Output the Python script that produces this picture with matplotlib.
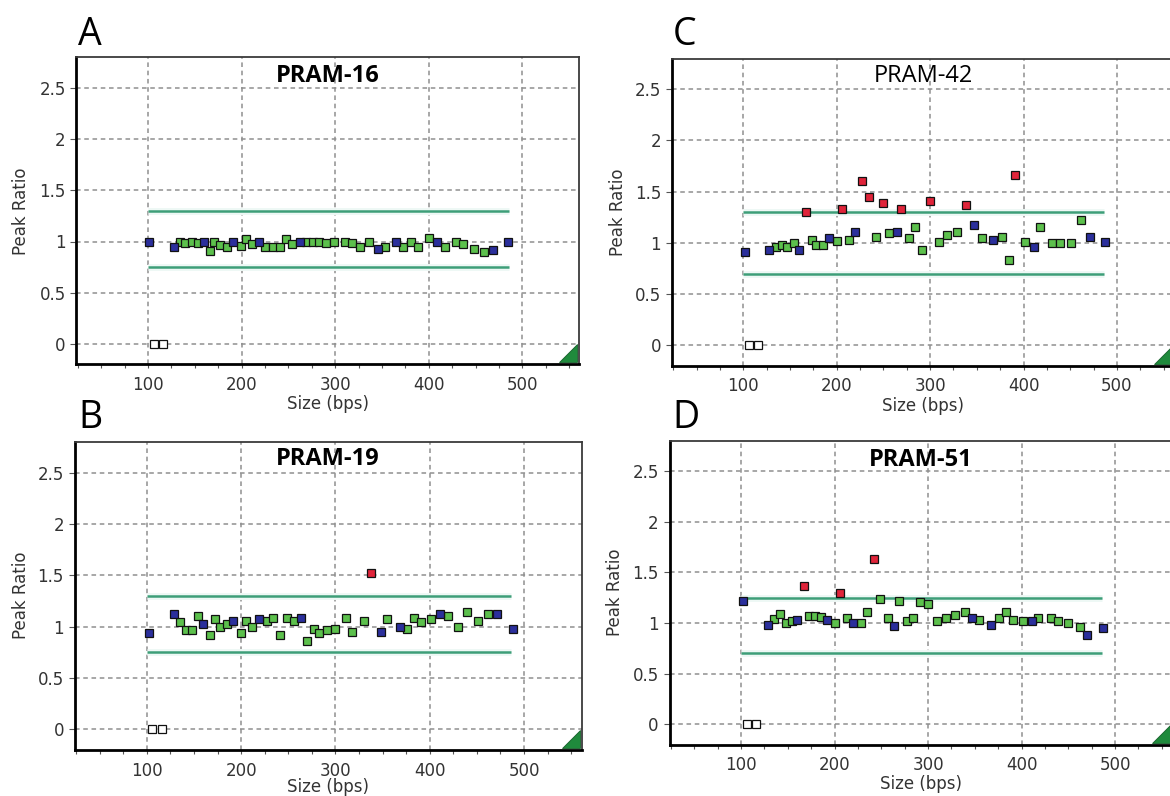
import matplotlib
matplotlib.use("Agg")
import matplotlib.pyplot as plt
from matplotlib.patches import Polygon
from matplotlib.ticker import FixedLocator

# ---------------- data ----------------
titles = ["PRAM-16", "PRAM-19", "PRAM-42", "PRAM-51"]
title_bold = [True, True, False, True]
letters = ["A", "B", "C", "D"]

# panel A (PRAM-16)
xA = [101, 128, 134, 140, 147, 153, 160, 166, 171, 177, 184, 191, 199, 205, 211, 219, 225, 234,
      241, 248, 254, 262, 269, 276, 283, 290, 299, 310, 318, 327, 336, 346, 353, 365, 373, 381,
      389, 400, 409, 417, 429, 437, 448, 459, 469, 485]
yA = [1.00, 0.95, 1.00, 0.99, 1.00, 0.99, 1.00, 0.91, 1.00, 0.97, 0.95, 1.00, 0.96, 1.02, 0.98,
      1.00, 0.95, 0.95, 0.95, 1.02, 0.98, 1.00, 1.00, 1.00, 1.00, 0.99, 1.00, 1.00, 0.99, 0.95,
      1.00, 0.93, 0.95, 1.00, 0.95, 1.00, 0.95, 1.03, 1.00, 0.95, 1.00, 0.98, 0.93, 0.90, 0.92, 1.00]
cA = ['b', 'b', 'g', 'g', 'g', 'g', 'b', 'g', 'g', 'g', 'g', 'b', 'g', 'g', 'g', 'b', 'g', 'g',
      'g', 'g', 'g', 'b', 'g', 'g', 'g', 'g', 'g', 'g', 'g', 'g', 'g', 'b', 'g', 'b', 'g', 'g',
      'g', 'g', 'b', 'g', 'g', 'g', 'g', 'g', 'b', 'b']

# panel B (PRAM-19)
xB = [102, 129, 135, 142, 148, 154, 160, 167, 172, 178, 185, 191, 200, 205, 212, 219, 227, 234,
      241, 249, 256, 263, 270, 277, 283, 291, 300, 311, 318, 330, 338, 348, 355, 368, 376, 383,
      391, 401, 411, 419, 430, 440, 451, 462, 471, 488]
yB = [0.94, 1.12, 1.04, 0.97, 0.97, 1.10, 1.02, 0.92, 1.07, 1.00, 1.02, 1.05, 0.94, 1.05, 1.00,
      1.07, 1.05, 1.08, 0.92, 1.08, 1.05, 1.08, 0.86, 0.98, 0.94, 0.97, 0.98, 1.08, 0.95, 1.05,
      1.52, 0.95, 1.07, 1.00, 0.98, 1.08, 1.04, 1.07, 1.12, 1.10, 1.00, 1.14, 1.05, 1.12, 1.12, 0.98]
cB = ['b', 'b', 'g', 'g', 'g', 'g', 'b', 'g', 'g', 'g', 'g', 'b', 'g', 'g', 'g', 'b', 'g', 'g',
      'g', 'g', 'g', 'b', 'g', 'g', 'g', 'g', 'g', 'g', 'g', 'g', 'r', 'b', 'g', 'b', 'g', 'g',
      'g', 'g', 'b', 'g', 'g', 'g', 'g', 'g', 'b', 'b']

# panel C (PRAM-42)
xC = [102, 128, 135, 141, 147, 154, 160, 167, 173, 178, 185, 192, 200, 206, 213, 220, 227, 235,
      242, 249, 256, 264, 269, 277, 284, 291, 300, 310, 318, 329, 338, 347, 355, 367, 377, 384,
      391, 402, 411, 418, 430, 439, 451, 462, 471, 487]
yC = [0.91, 0.93, 0.96, 0.98, 0.96, 1.00, 0.93, 1.30, 1.03, 0.98, 0.98, 1.05, 1.02, 1.33, 1.03,
      1.11, 1.60, 1.45, 1.06, 1.39, 1.10, 1.11, 1.33, 1.05, 1.15, 0.93, 1.41, 1.01, 1.08, 1.11,
      1.37, 1.17, 1.05, 1.03, 1.06, 0.83, 1.66, 1.01, 0.96, 1.15, 1.00, 1.00, 1.00, 1.22, 1.06, 1.01]
cC = ['b', 'b', 'g', 'g', 'g', 'g', 'b', 'r', 'g', 'g', 'g', 'b', 'g', 'r', 'g', 'b', 'r', 'r',
      'g', 'r', 'g', 'b', 'r', 'g', 'g', 'g', 'r', 'g', 'g', 'g', 'r', 'b', 'g', 'b', 'g', 'g',
      'r', 'g', 'b', 'g', 'g', 'g', 'g', 'g', 'b', 'b']

# panel D (PRAM-51)
xD = [102, 129, 135, 142, 148, 154, 160, 167, 173, 179, 185, 192, 200, 206, 213, 220, 228, 235,
      242, 249, 257, 264, 269, 277, 284, 291, 300, 310, 319, 329, 339, 347, 355, 367, 376, 383,
      391, 402, 411, 418, 431, 439, 450, 462, 470, 487]
yD = [1.22, 0.98, 1.04, 1.09, 1.00, 1.02, 1.03, 1.37, 1.07, 1.07, 1.06, 1.03, 1.00, 1.30, 1.05,
      1.00, 1.00, 1.11, 1.63, 1.24, 1.05, 0.97, 1.22, 1.02, 1.05, 1.21, 1.19, 1.02, 1.05, 1.08,
      1.11, 1.05, 1.03, 0.98, 1.05, 1.11, 1.03, 1.02, 1.02, 1.05, 1.05, 1.02, 1.00, 0.96, 0.88, 0.95]
cD = ['b', 'b', 'g', 'g', 'g', 'g', 'b', 'r', 'g', 'g', 'g', 'b', 'g', 'r', 'g', 'b', 'g', 'g',
      'r', 'g', 'g', 'b', 'g', 'g', 'g', 'g', 'g', 'g', 'g', 'g', 'g', 'b', 'g', 'b', 'g', 'g',
      'g', 'g', 'b', 'g', 'g', 'g', 'g', 'g', 'b', 'b']

# open squares at zero
x_zero = [106, 116]
y_zero = [0, 0]

# threshold lines (lower, upper) per panel
thr_lo = [0.75, 0.75, 0.70, 0.70]
thr_hi = [1.30, 1.30, 1.30, 1.25]
thr_x = [100, 486]

xticks = [100, 200, 300, 400, 500]
yticks = [0, 0.5, 1, 1.5, 2, 2.5]
yticklabels = ["0", "0.5", "1", "1.5", "2", "2.5"]

panel_x = [xA, xB, xC, xD]
panel_y = [yA, yB, yC, yD]
panel_c = [cA, cB, cC, cD]

colors = {'g': '#5cc04c', 'b': '#2b2f9c', 'r': '#e0243a'}

# ---------------- layout ----------------
W, H = 1170, 796
fig = plt.figure(figsize=(W / 100, H / 100), dpi=100)
fig.patch.set_facecolor("white")

# axes boxes in pixels: left, top, width, height
boxes = [(76.4, 57.3, 503, 307),
         (74.6, 441.7, 507, 308),
         (671.9, 58.6, 502, 307),
         (669.5, 440.6, 502.6, 304)]
ylabel_gap = [55, 54, 54, 54]
xlabel_gap = [40, 37, 40, 39]
letter_pos = [(78, 45), (78, 428), (673, 45), (672, 428)]
title_off = [25, 23, 23, 25]

XMIN, XMAX = 23.5, 561
YMIN, YMAX = -0.2, 2.8

for i in range(4):
    l, t, w, h = boxes[i]
    ax = fig.add_axes([l / W, 1 - (t + h) / H, w / W, h / H])
    ax.set_xlim(XMIN, XMAX)
    ax.set_ylim(YMIN, YMAX)
    ax.set_facecolor("white")

    ax.xaxis.set_major_locator(FixedLocator(xticks))
    ax.xaxis.set_minor_locator(FixedLocator([v for v in range(25, 561, 25) if v % 100 != 0]))
    ax.set_yticks(yticks)
    ax.set_yticklabels(yticklabels)

    ax.grid(True, which='major', color='#8f8f8f', lw=1.1, linestyle=(0, (3, 2.4)), zorder=1)
    ax.set_axisbelow(True)

    ax.tick_params(axis='x', which='both', direction='out', length=3, width=0.8, color='#555555',
                   pad=5.5, labelsize=12, labelcolor='#333333')
    ax.tick_params(axis='y', which='major', direction='out', length=4.3, width=0.8, color='#555555',
                   pad=3.4, labelsize=12, labelcolor='#333333')

    for s in ['left', 'bottom']:
        ax.spines[s].set_linewidth(2.0)
        ax.spines[s].set_color('black')
    for s in ['top', 'right']:
        ax.spines[s].set_linewidth(1.3)
        ax.spines[s].set_color('#3a3a3a')

    # threshold lines with faint halo
    for v in (thr_lo[i], thr_hi[i]):
        ax.plot(thr_x, [v, v], color='#eef8f5', lw=5, solid_capstyle='butt', zorder=2)
        ax.plot(thr_x, [v, v], color='#3d9e78', lw=1.8, solid_capstyle='butt', zorder=2.5)

    # data points
    xs, ys, cs = panel_x[i], panel_y[i], panel_c[i]
    for key in ['g', 'b', 'r']:
        px = [x for x, c in zip(xs, cs) if c == key]
        py = [y for y, c in zip(ys, cs) if c == key]
        ax.plot(px, py, linestyle='none', marker='s', markersize=5.6, markerfacecolor=colors[key],
                markeredgecolor='#111111', markeredgewidth=0.9, zorder=4)
    ax.plot(x_zero, y_zero, linestyle='none', marker='s', markersize=5.6, markerfacecolor='white',
            markeredgecolor='#111111', markeredgewidth=0.9, zorder=4)

    # corner triangle
    tri = Polygon([(1 - 20 / w, 2 / h), (1 - 2 / w, 2 / h), (1 - 2 / w, 20 / h)], closed=True,
                  transform=ax.transAxes, facecolor='#1f8a3c', edgecolor='#15602a', lw=0.6,
                  zorder=5, clip_on=False)
    ax.add_patch(tri)

    # labels
    ax.set_ylabel("Peak Ratio", fontsize=12, color='#333333')
    ax.yaxis.label.set_va('center')
    ax.yaxis.set_label_coords(-ylabel_gap[i] / w, 0.5)
    ax.set_xlabel("Size (bps)", fontsize=12, color='#333333')
    ax.xaxis.label.set_va('center')
    ax.xaxis.set_label_coords(0.5, -xlabel_gap[i] / h)

    ax.text(0.5, 1 - title_off[i] / h, titles[i], transform=ax.transAxes, ha='center',
            va='baseline', fontsize=17, family='Open Sans',
            fontweight='bold' if title_bold[i] else 'normal', color='black', zorder=6)

    lx, ly = letter_pos[i]
    fig.text(lx / W, 1 - ly / H, letters[i], ha='left', va='baseline', fontsize=27,
             family='Open Sans', color='black')

fig.savefig("out.png", dpi=100, facecolor='white')
